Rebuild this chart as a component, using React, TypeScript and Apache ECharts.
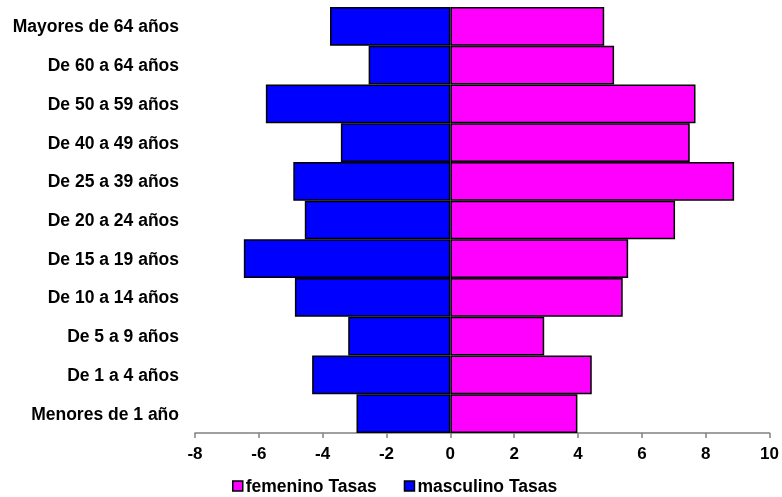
import React, { useEffect, useRef } from "react";
import * as echarts from "echarts";

const categories = [
  "Mayores de 64 años",
  "De 60 a 64 años",
  "De 50 a 59 años",
  "De 40 a 49 años",
  "De 25 a 39 años",
  "De 20 a 24 años",
  "De 15 a 19 años",
  "De 10 a 14 años",
  "De 5 a 9 años",
  "De 1 a 4 años",
  "Menores de 1 año",
];
const femenino = [4.82, 5.13, 7.68, 7.5, 8.89, 7.04, 5.57, 5.4, 2.94, 4.43, 3.98];
const masculino = [-3.77, -2.56, -5.78, -3.43, -4.92, -4.56, -6.47, -4.87, -3.2, -4.33, -2.94];
const seriesNames = ["femenino Tasas", "masculino Tasas"];

const FONT = "'Liberation Sans', Arial, sans-serif";

export default function App() {
  const ref = useRef<HTMLDivElement>(null);
  useEffect(() => {
    if (!ref.current) return;
    const chart = echarts.init(ref.current, undefined, { renderer: "svg" });
    chart.setOption({
      animation: false,
      grid: { left: 195, right: 12, top: 7, bottom: 64 },
      legend: {
        data: seriesNames,
        top: 477,
        left: 232,
        padding: 0,
        itemWidth: 10,
        itemHeight: 10,
        itemGap: 27,
        icon: "rect",
        itemStyle: { borderColor: "#000", borderWidth: 1.5 },
        textStyle: {
          fontFamily: FONT,
          fontWeight: "bold",
          fontSize: 17.5,
          lineHeight: 18,
          color: "#000",
          padding: [0, 0, 0, -2],
        },
      },
      xAxis: {
        type: "value",
        min: -8,
        max: 10,
        interval: 2,
        axisLine: { show: true, lineStyle: { color: "#808080", width: 1.5 } },
        axisTick: { show: true, length: 5, lineStyle: { color: "#808080", width: 1.5 } },
        axisLabel: { fontFamily: FONT, fontWeight: "bold", fontSize: 17, color: "#000", margin: 12 },
        splitLine: { show: false },
      },
      yAxis: {
        type: "category",
        data: categories,
        inverse: true,
        axisLine: { show: false },
        axisTick: { show: false },
        axisLabel: { fontFamily: FONT, fontWeight: "bold", fontSize: 17.5, color: "#000", margin: 16 },
      },
      series: [
        {
          name: seriesNames[0],
          type: "bar",
          data: femenino,
          barGap: "-100%",
          barCategoryGap: 0,
          itemStyle: { color: "#ff00ff", borderColor: "#000", borderWidth: 1.5 },
        },
        {
          name: seriesNames[1],
          type: "bar",
          data: masculino,
          barGap: "-100%",
          barCategoryGap: 0,
          itemStyle: { color: "#0000ff", borderColor: "#000", borderWidth: 1.5 },
        },
      ],
    });
    return () => chart.dispose();
  }, []);
  return (
    <div
      ref={ref}
      style={{ position: "fixed", left: 0, top: 0, width: 782, height: 497 }}
    />
  );
}
